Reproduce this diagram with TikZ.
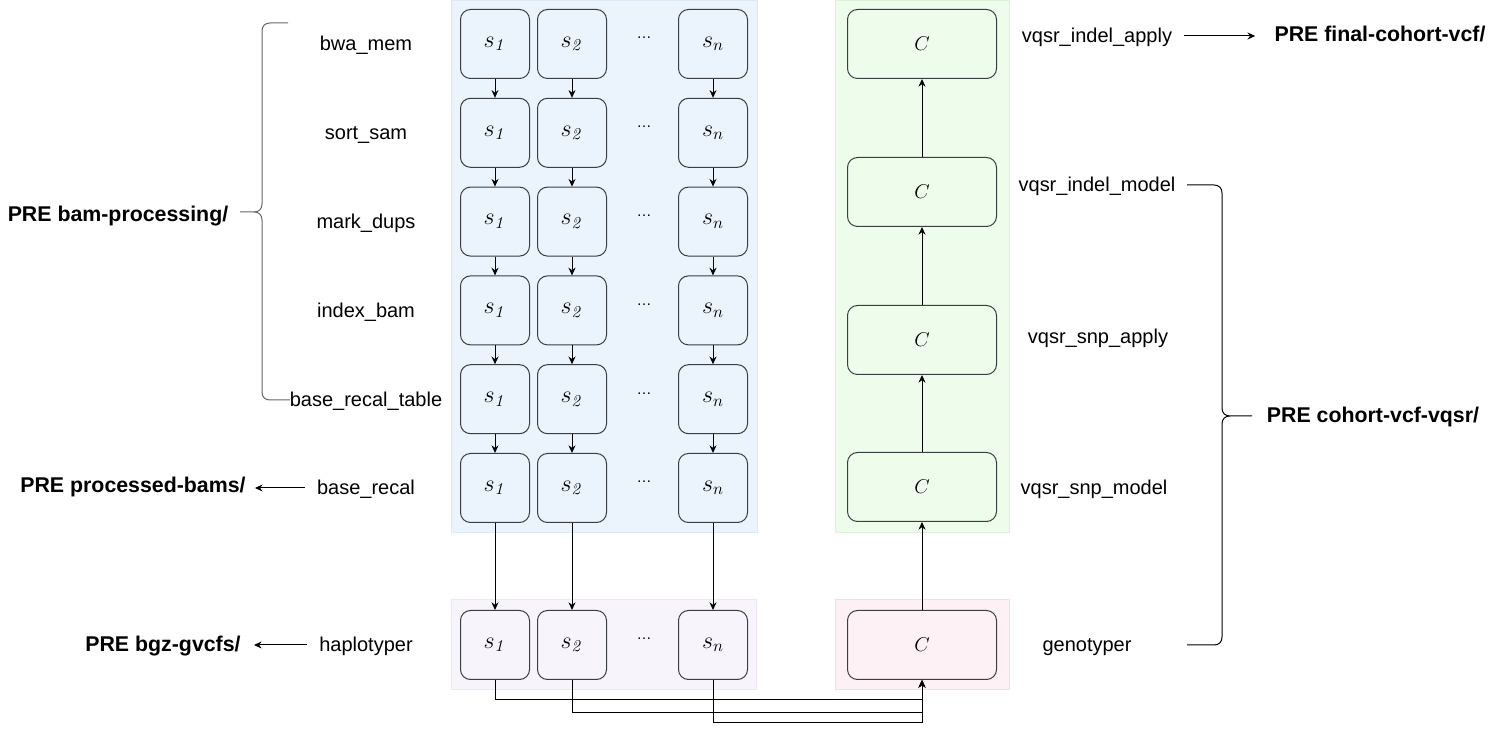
\documentclass[tikz,border=0pt]{standalone}
\usepackage[no-math]{fontspec}
\setmainfont{Liberation Sans}
\usetikzlibrary{arrows.meta}

\definecolor{bluebg}{HTML}{EBF4FD}
\definecolor{blueln}{HTML}{DCE8F5}
\definecolor{greenbg}{HTML}{EDFCEB}
\definecolor{greenln}{HTML}{DCF3D8}
\definecolor{purplebg}{HTML}{F8F4FC}
\definecolor{purpleln}{HTML}{EDE6F4}
\definecolor{pinkbg}{HTML}{FEF1F6}
\definecolor{pinkln}{HTML}{F6DCE4}
\definecolor{boxln}{HTML}{3A3D42}

\tikzset{
  panel/.style={line width=0.6pt},
  sbox/.style={draw=boxln, line width=0.6pt, rounded corners=6pt,
    minimum width=41.4pt, minimum height=41.4pt, inner sep=0pt,
    font=\fontsize{14}{16}\selectfont},
  cbox/.style={sbox, minimum width=89.4pt, font=\fontsize{13}{15}\selectfont},
  lbl/.style={inner sep=0pt, font=\fontsize{12}{14}\selectfont,
    text height=10pt, text depth=1.6pt},
  tgt/.style={lbl, font=\fontsize{12.8}{14}\selectfont\bfseries},
  gap/.style={inner sep=0pt, font=\fontsize{9}{10}\selectfont},
  arr/.style={line width=0.6pt, -{Stealth[length=4.6pt,width=4.2pt]}},
  brace/.style={line width=0.6pt, line join=round}
}

\begin{document}
\begin{tikzpicture}[x=0.6pt, y=-0.6pt]
  \useasboundingbox (0,0) rectangle (1496,732);

  % coloured panels
  \filldraw[panel, fill=bluebg, draw=blueln] (451,1) rectangle (757,533);
  \filldraw[panel, fill=greenbg, draw=greenln] (835,1) rectangle (1009,533);
  \filldraw[panel, fill=purplebg, draw=purpleln] (451,600) rectangle (756,690);
  \filldraw[panel, fill=pinkbg, draw=pinkln] (835,600) rectangle (1009,690);

  % per-sample steps
  \foreach \r/\y in {1/44, 2/132.8, 3/221.6, 4/310.4, 5/399.2, 6/488} {
    \node[sbox] (a\r) at (495,\y) {$s_{\mathit{1}}$};
    \node[sbox] (b\r) at (572,\y) {$s_{\mathit{2}}$};
    \node[sbox] (n\r) at (713,\y) {$s_n$};
    \node[gap, anchor=base] (d\r) at (644,\y-5) {\ldots};
  }
  \foreach \r [evaluate=\r as \s using int(\r+1)] in {1,...,5} {
    \draw[arr] (a\r) -- (a\s);
    \draw[arr] (b\r) -- (b\s);
    \draw[arr] (n\r) -- (n\s);
  }

  % haplotyper row
  \node[sbox] (h1) at (495,645) {$s_{\mathit{1}}$};
  \node[sbox] (h2) at (572,645) {$s_{\mathit{2}}$};
  \node[sbox] (hn) at (713,645) {$s_n$};
  \node[gap, anchor=base] (hd) at (644,640) {\ldots};
  \draw[arr] (a6) -- (h1);
  \draw[arr] (b6) -- (h2);
  \draw[arr] (n6) -- (hn);

  % cohort steps
  \node[cbox] (g) at (922,645) {$C$};
  \node[cbox] (c1) at (922,487) {$C$};
  \node[cbox] (c2) at (922,340) {$C$};
  \node[cbox] (c3) at (922,192) {$C$};
  \node[cbox] (c4) at (922,44) {$C$};
  \draw[arr] (g) -- (c1);
  \draw[arr] (c1) -- (c2);
  \draw[arr] (c2) -- (c3);
  \draw[arr] (c3) -- (c4);

  % gather haplotyper outputs into the genotyper
  \coordinate (j1) at (922,700);
  \coordinate (j2) at (922,713);
  \coordinate (jn) at (922,723);
  \draw[arr] (h1) |- (j1) -- (g);
  \draw[arr] (h2) |- (j2) -- (g);
  \draw[arr] (hn) |- (jn) -- (g);

  % step names, left side
  \node[lbl] (l1) at (366,44) {bwa\_mem};
  \node[lbl] (l2) at (366,132.8) {sort\_sam};
  \node[lbl] (l3) at (366,221.6) {mark\_dups};
  \node[lbl] (l4) at (366,310.4) {index\_bam};
  \node[lbl] (l5) at (366,399.2) {base\_recal\_table};
  \node[lbl] (l6) at (366,488) {base\_recal};
  \node[lbl] (l7) at (366,645) {haplotyper};

  % step names, right side
  \node[lbl] (r4) at (1097,36) {vqsr\_indel\_apply};
  \node[lbl] (r3) at (1097,185) {vqsr\_indel\_model};
  \node[lbl] (r2) at (1098,337) {vqsr\_snp\_apply};
  \node[lbl] (r1) at (1094,488) {vqsr\_snp\_model};
  \node[lbl] (r0) at (1087,645) {genotyper};

  % output locations
  \node[tgt] (tbam) at (118,215) {PRE bam-processing/};
  \node[tgt] (tproc) at (133,486) {PRE processed-bams/};
  \node[tgt] (tgvcf) at (163,645) {PRE bgz-gvcfs/};
  \node[tgt] (tfinal) at (1380,35) {PRE final-cohort-vcf/};
  \node[tgt] (tvqsr) at (1373,416) {PRE cohort-vcf-vqsr/};

  \draw[arr, shorten <=7.2pt, shorten >=5.4pt] (l6.west) -- (tproc.east |- l6.west);
  \draw[arr, shorten <=7.2pt, shorten >=7.8pt] (l7.west) -- (tgvcf.east |- l7.west);
  \draw[arr, shorten <=7.2pt, shorten >=11.4pt] (r4.east) -- (tfinal.west |- r4.east);

  % brace over the bam-processing steps
  \draw[brace, draw=black!60]
    (288,23) -- (270,23) .. controls (265,23) and (262,26) .. (262,31)
    -- (262,204) .. controls (262,209) and (259,212) .. (254,212) -- (240,212)
    (254,212) .. controls (259,212) and (262,215) .. (262,220)
    -- (262,392) .. controls (262,397) and (265,400) .. (270,400) -- (290,400);

  % brace over the cohort steps
  \draw[brace]
    (1187,185) -- (1214,185) .. controls (1219,185) and (1222,188) .. (1222,193)
    -- (1222,408) .. controls (1222,413) and (1225,416) .. (1230,416) -- (1252,416)
    (1230,416) .. controls (1225,416) and (1222,419) .. (1222,424)
    -- (1222,637) .. controls (1222,642) and (1219,645) .. (1214,645) -- (1187,645);
\end{tikzpicture}
\end{document}
